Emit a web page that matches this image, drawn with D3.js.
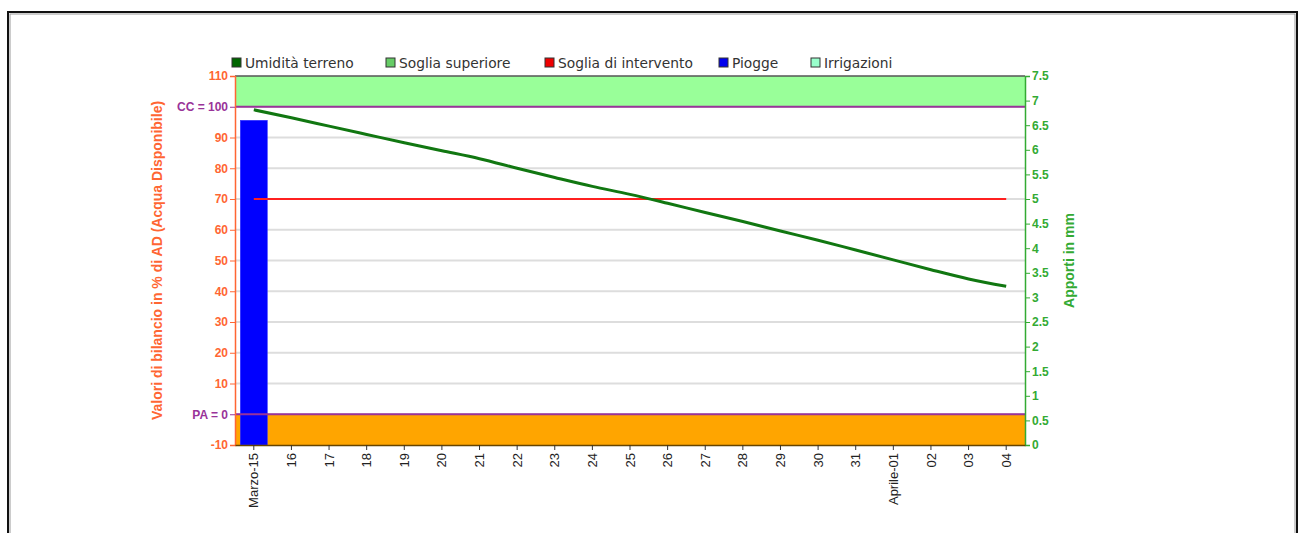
<!DOCTYPE html>
<html lang="it">
<head>
  <meta charset="UTF-8">
  <title>Bilancio idrico</title>
  <script src="https://d3js.org/d3.v7.min.js"></script>
  <style>
    body { margin: 0; background: #fff; }
    svg text { font-family: "Liberation Sans", Arial, sans-serif; }
    .legend text { font-family: "DejaVu Sans", Verdana, sans-serif; font-size: 13.8px; fill: #333; }
    .grid line { stroke: #ddd; stroke-width: 2px; }
  </style>
</head>
<body>
  <div id="chart"></div>

  <script>
    // giorni
    const giorni = ["Marzo-15", "16", "17", "18", "19", "20", "21", "22", "23", "24", "25",
                    "26", "27", "28", "29", "30", "31", "Aprile-01", "02", "03", "04"];
    // Umidità terreno (% AD)
    const umidita = [99.0, 96.4, 93.7, 91.0, 88.3, 85.7, 83.1, 80.0, 77.0, 74.1, 71.5,
                     68.6, 65.6, 62.7, 59.6, 56.6, 53.4, 50.2, 47.0, 44.0, 41.6];
    // Soglia di intervento (% AD)
    const sogliaIntervento = giorni.map(() => 70);
    // Piogge (mm)
    const piogge = [6.6, 0, 0, 0, 0, 0, 0, 0, 0, 0, 0, 0, 0, 0, 0, 0, 0, 0, 0, 0, 0];
    // Irrigazioni (mm)
    const irrigazioni = giorni.map(() => 0);

    const sogliaSuperiore = [100, 110];
    const CC = 100, PA = 0;
    const leftTicks = [110, 100, 90, 80, 70, 60, 50, 40, 30, 20, 10, 0, -10];
    const rightTicks = [0, 0.5, 1, 1.5, 2, 2.5, 3, 3.5, 4, 4.5, 5, 5.5, 6, 6.5, 7, 7.5];

    const legenda = [
      { nome: "Umidità terreno", colore: "#006600" },
      { nome: "Soglia superiore", colore: "#66cc66" },
      { nome: "Soglia di intervento", colore: "#ee0000" },
      { nome: "Piogge", colore: "#0000ee" },
      { nome: "Irrigazioni", colore: "#99ffcc" }
    ];

    const W = 1308, H = 533;
    const mLeft = 235, mRight = 1025, mTop = 76, mBottom = 445;
    const ORANGE = "#ff6633", GREEN = "#33aa33", PURPLE = "#993399";

    const svg = d3.select("#chart").append("svg")
      .attr("width", W).attr("height", H);

    // cornice
    svg.append("rect")
      .attr("x", 8).attr("y", 12).attr("width", 1289).attr("height", 540)
      .attr("fill", "none").attr("stroke", "#111").attr("stroke-width", 2);
    svg.append("rect")
      .attr("x", 10).attr("y", 14).attr("width", 1285).attr("height", 540)
      .attr("fill", "none").attr("stroke", "#999").attr("stroke-width", 1);

    const x = d3.scaleBand().domain(giorni).range([mLeft, mRight]).paddingInner(0.28).paddingOuter(0.14);
    const xc = d => x(d) + x.bandwidth() / 2;
    const y = d3.scaleLinear().domain([-10, 110]).range([mBottom, mTop]);
    const y2 = d3.scaleLinear().domain([0, 7.5]).range([mBottom, mTop]);

    // griglia
    svg.append("g").attr("class", "grid")
      .selectAll("line").data(leftTicks.filter(t => t !== 110 && t !== -10))
      .join("line")
      .attr("x1", mLeft).attr("x2", mRight)
      .attr("y1", d => y(d)).attr("y2", d => y(d));

    // fascia soglia superiore
    svg.append("rect")
      .attr("x", mLeft).attr("width", mRight - mLeft)
      .attr("y", y(sogliaSuperiore[1])).attr("height", y(sogliaSuperiore[0]) - y(sogliaSuperiore[1]))
      .attr("fill", "#99ff99");
    svg.append("line")
      .attr("x1", mLeft).attr("x2", mRight).attr("y1", y(110)).attr("y2", y(110))
      .attr("stroke", "#555").attr("stroke-width", 1.5);

    // fascia sotto il punto di appassimento
    svg.append("rect")
      .attr("x", mLeft).attr("width", mRight - mLeft)
      .attr("y", y(PA)).attr("height", y(-10) - y(PA))
      .attr("fill", "#ffa500");

    // piogge
    svg.append("g").selectAll("rect").data(piogge.map((v, i) => ({ g: giorni[i], v })).filter(d => d.v > 0))
      .join("rect")
      .attr("x", d => x(d.g)).attr("width", x.bandwidth())
      .attr("y", d => y2(d.v)).attr("height", d => y2(0) - y2(d.v))
      .attr("fill", "#0000ff").attr("stroke", "#3333ff").attr("stroke-width", 0.5);

    // irrigazioni
    svg.append("g").selectAll("rect").data(irrigazioni.map((v, i) => ({ g: giorni[i], v })).filter(d => d.v > 0))
      .join("rect")
      .attr("x", d => x(d.g)).attr("width", x.bandwidth())
      .attr("y", d => y2(d.v)).attr("height", d => y2(0) - y2(d.v))
      .attr("fill", "#99ffcc");

    // linee CC e PA
    [CC, PA].forEach(v => {
      svg.append("line")
        .attr("x1", mLeft).attr("x2", mRight).attr("y1", y(v)).attr("y2", y(v))
        .attr("stroke", PURPLE).attr("stroke-width", 2);
    });

    // soglia di intervento
    svg.append("path")
      .datum(sogliaIntervento)
      .attr("fill", "none").attr("stroke", "#ff2020").attr("stroke-width", 2)
      .attr("d", d3.line().x((d, i) => xc(giorni[i])).y(d => y(d)));

    // umidità terreno
    svg.append("path")
      .datum(umidita)
      .attr("fill", "none").attr("stroke", "#117711").attr("stroke-width", 3)
      .attr("d", d3.line().curve(d3.curveMonotoneX).x((d, i) => xc(giorni[i])).y(d => y(d)));

    // asse sinistro
    const axL = svg.append("g").attr("transform", `translate(${mLeft},0)`)
      .call(d3.axisLeft(y).tickValues(leftTicks).tickSize(5).tickPadding(2)
        .tickFormat(d => d === CC ? "CC = 100" : d === PA ? "PA = 0" : d));
    axL.select(".domain").attr("stroke", ORANGE).attr("stroke-width", 1.5);
    axL.selectAll(".tick line").attr("stroke", ORANGE);
    axL.selectAll(".tick text")
      .attr("fill", d => (d === CC || d === PA) ? PURPLE : ORANGE)
      .style("font-size", "12px").style("font-weight", "bold");
    axL.selectAll(".tick line").filter(d => d === CC || d === PA).attr("stroke", PURPLE);

    svg.append("text")
      .attr("transform", `translate(162,${(mTop + mBottom) / 2}) rotate(-90)`)
      .attr("text-anchor", "middle")
      .attr("fill", ORANGE).style("font-size", "14px").style("font-weight", "bold")
      .text("Valori di bilancio in % di AD (Acqua Disponibile)");

    // asse destro
    const axR = svg.append("g").attr("transform", `translate(${mRight},0)`)
      .call(d3.axisRight(y2).tickValues(rightTicks).tickSize(5).tickPadding(2).tickFormat(d => d));
    axR.select(".domain").attr("stroke", GREEN).attr("stroke-width", 1.5);
    axR.selectAll(".tick line").attr("stroke", GREEN);
    axR.selectAll(".tick text").attr("fill", GREEN)
      .style("font-size", "12px").style("font-weight", "bold");

    svg.append("text")
      .attr("transform", `translate(1074,${(mTop + mBottom) / 2}) rotate(-90)`)
      .attr("text-anchor", "middle")
      .attr("fill", GREEN).style("font-size", "14px").style("font-weight", "bold")
      .text("Apporti in mm");

    // asse x
    const axX = svg.append("g").attr("transform", `translate(0,${mBottom})`)
      .call(d3.axisBottom(x).tickSize(5).tickSizeOuter(0));
    axX.select(".domain").attr("stroke", "#664400").attr("stroke-width", 1.5);
    axX.selectAll(".tick line").attr("stroke", "#333");
    axX.selectAll(".tick text")
      .attr("transform", "rotate(-90)")
      .attr("text-anchor", "end")
      .attr("x", -8).attr("y", 0).attr("dy", "0.35em")
      .attr("fill", "#222").style("font-size", "13px");

    // legenda
    const pos = [232, 386, 545, 719, 811];
    const leg = svg.append("g").attr("class", "legend");
    legenda.forEach((l, i) => {
      const g = leg.append("g").attr("transform", `translate(${pos[i]},63)`);
      g.append("rect").attr("x", 0).attr("y", -5).attr("width", 9).attr("height", 9)
        .attr("fill", l.colore).attr("stroke", "#333").attr("stroke-width", 1);
      g.append("text").attr("x", 13).attr("y", 0).attr("dy", "0.35em").text(l.nome);
    });
  </script>
</body>
</html>
